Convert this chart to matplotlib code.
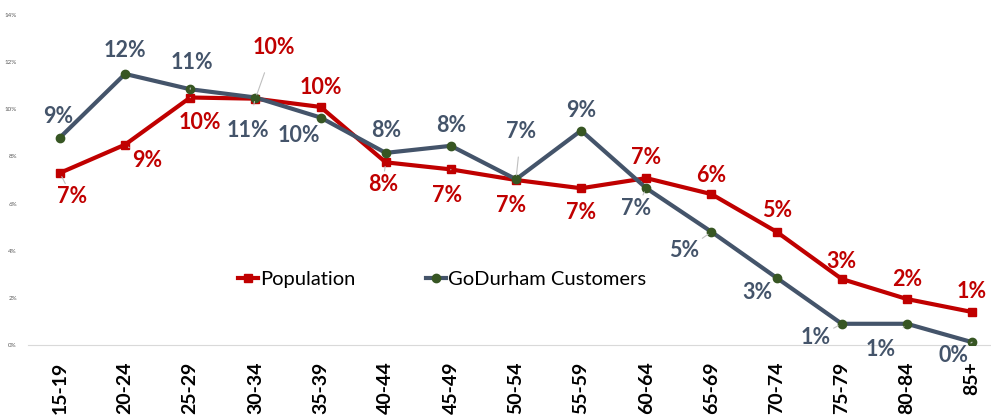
import numpy as np
import matplotlib.pyplot as plt
from matplotlib.ticker import PercentFormatter

ages = ['15-19', '20-24', '25-29', '30-34', '35-39', '40-44', '45-49', '50-54',
        '55-59', '60-64', '65-69', '70-74', '75-79', '80-84', '85+']
population = [7.3, 8.5, 10.5, 10.45, 10.1, 7.75, 7.45, 7.0, 6.65, 7.08, 6.4, 4.8, 2.8, 1.95, 1.4]
customers = [8.8, 11.5, 10.85, 10.5, 9.65, 8.15, 8.45, 7.03, 9.1, 6.65, 4.8, 2.85, 0.9, 0.9, 0.12]
pop_labels = ['7%', '9%', '10%', '10%', '10%', '8%', '7%', '7%', '7%', '7%', '6%', '5%', '3%', '2%', '1%']
cust_labels = ['9%', '12%', '11%', '11%', '10%', '8%', '8%', '7%', '9%', '7%', '5%', '3%', '1%', '1%', '0%']

# label offsets in pixels (dx, dy), y up
pop_off = [(12, -24), (22, -16), (10, -25), (18, 51), (0, 19), (-3, -22), (-4, -26), (-5, -25),
           (0, -24), (0, 21), (0, 19), (0, 21), (0, 17), (0, 20), (0, 20)]
cust_off = [(-2, 21), (0, 23), (2, 27), (-7, -33), (-22, -18), (0, 22), (0, 20), (5, 48),
            (0, 20), (-10, -20), (-27, -19), (-19, -15), (-26, -14), (-26, -26), (-19, -13)]
pop_lead = [1, 1, 1, 1, 0, 1, 1, 0, 0, 0, 0, 0, 0, 0, 0]
cust_lead = [0, 0, 1, 1, 0, 0, 0, 1, 0, 1, 1, 0, 1, 1, 1]

red = '#C00000'
slate = '#44546A'
green = '#375623'

plt.rcParams['font.family'] = ['Lato', 'DejaVu Sans']

fig = plt.figure(figsize=(9.91, 4.17), dpi=100)
ax = fig.add_axes([28 / 991, 72 / 417, 963 / 991, 330 / 417])
x = np.arange(len(ages))
pop = np.array(population) / 100
cus = np.array(customers) / 100

ax.plot(x, pop, color=red, lw=3, marker='s', ms=5.5, mfc=red, mec=red, label='Population', zorder=3)
ax.plot(x, cus, color=slate, lw=3, marker='o', ms=6, mfc=green, mec=green, label='GoDurham Customers', zorder=4)

for i in range(len(ages)):
    dx, dy = pop_off[i]
    ap = dict(arrowstyle='-', color='#BFBFBF', lw=0.8, shrinkA=9, shrinkB=3) if pop_lead[i] else None
    ax.annotate(pop_labels[i], (x[i], pop[i]), xytext=(dx, dy), textcoords='offset pixels',
                ha='center', va='center', fontsize=15.5, fontweight='bold', color=red,
                arrowprops=ap, zorder=5)
    dx, dy = cust_off[i]
    ap = dict(arrowstyle='-', color='#BFBFBF', lw=0.8, shrinkA=9, shrinkB=3) if cust_lead[i] else None
    ax.annotate(cust_labels[i], (x[i], cus[i]), xytext=(dx, dy), textcoords='offset pixels',
                ha='center', va='center', fontsize=15.5, fontweight='bold', color=slate,
                arrowprops=ap, zorder=5)

ax.set_xlim(-0.49, 14.29)
ax.set_ylim(0, 0.14)
ax.set_yticks(np.arange(0, 0.141, 0.02))
ax.yaxis.set_major_formatter(PercentFormatter(1.0, decimals=0))
ax.tick_params(axis='y', labelsize=4.5, labelcolor='#595959', length=0, pad=8)
ax.set_xticks(x)
ax.set_xticklabels(ages, rotation=90, fontsize=14, fontweight='bold')
ax.tick_params(axis='x', length=0, pad=12)
for s in ['top', 'right', 'left']:
    ax.spines[s].set_visible(False)
ax.spines['bottom'].set_color('#D9D9D9')

ax.legend(loc='center', bbox_to_anchor=(0.43, 0.2), ncol=2, frameon=False, fontsize=14.5,
          handlelength=1.0, handletextpad=0.1, columnspacing=3.5)

fig.savefig('out.png', dpi=100)
